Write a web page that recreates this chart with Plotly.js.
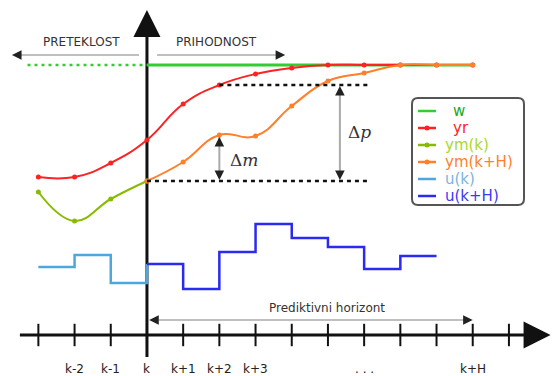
<!DOCTYPE html>
<html>
<head>
<meta charset="utf-8">
<script src="https://cdn.plot.ly/plotly-3.0.1.min.js"></script>
<style>html,body{margin:0;padding:0;background:#fff;}#chart{width:552px;height:376px;}</style>
</head>
<body>
<div id="chart"></div>
<script>
// ---- data (x: sample index relative to k; y: signal level) ----
const tickPos = [-3,-2,-1,0,1,2,3,4,5,6,7,8,9,10];
const tickLabelPos = [-2,-1,0,1,2,3,6,9];
const tickLabels = ['k-2','k-1','k','k+1','k+2','k+3','. . .','k+H'];

const wPastX = [-3.3, 0];
const wPastY = [311, 311];
const wX = [0, 9];
const wY = [311, 311];

const yrX = [-3,-2,-1,0,1,2,3,4,5,6,7,8,9];
const yrY = [199,199,213,236,272,291,302,308,311,311,311,311,311];

const ymkX = [-3,-2,-1,0];
const ymkY = [184,155,177,195];

const ymkhX = [0,1,2,3,4,5,6,7,8,9];
const ymkhY = [195,214,241,240,270,295,303,311,311,311];

const ukX = [-3,-2,-1,0];
const ukY = [109,121,93,112];

const ukhX = [0,1,2,3,4,5,6,7,8];
const ukhY = [112,87,124,152,138,129,107,120,120];

const refLevelLow = 195;   // ym at k
const refLevelHigh = 291;  // yr at k+2

const seriesNames = ['w','yr','ym(k)','ym(k+H)','u(k)','u(k+H)'];

// ---- colours ----
const cW = '#33cc33', cYr = '#ff2222', cYmk = '#88bb00', cYmkh = '#ff7f2a', cUk = '#4ea6dc', cUkh = '#2a2af0';
const lineColors = [cW, cYr, cYmk, cYmkh, cUk, cUkh];
const textColors = ['#22aa22', '#ff2222', '#a8d82a', '#ff7f2a', '#7ab4e4', '#3a3af0'];
const hasMarker = [false, true, true, true, false, false];
const textIndent = [8, 8, 0, 0, 0, 0];

const font = 'DejaVu Sans, Verdana, sans-serif';

const traces = [
  {x: wPastX, y: wPastY, mode:'lines', line:{color:cW, width:2.5, dash:'3px,4px'}},
  {x: wX, y: wY, mode:'lines', line:{color:cW, width:3}},
  {x: yrX, y: yrY, mode:'lines+markers', line:{color:cYr, width:2, shape:'spline', smoothing:1.3}, marker:{size:5, color:cYr}},
  {x: ymkX, y: ymkY, mode:'lines+markers', line:{color:cYmk, width:2, shape:'spline', smoothing:1.2}, marker:{size:5, color:cYmk}},
  {x: ymkhX, y: ymkhY, mode:'lines+markers', line:{color:cYmkh, width:2, shape:'spline', smoothing:1.3}, marker:{size:5, color:cYmkh}},
  {x: ukX, y: ukY, mode:'lines', line:{color:cUk, width:2.5, shape:'hv'}},
  {x: ukhX, y: ukhY, mode:'lines', line:{color:cUkh, width:2.5, shape:'hv'}},
  {x: tickPos, y: tickPos.map(()=>41), mode:'markers', marker:{symbol:'line-ns', size:16, line:{color:'#111', width:2}}}
];
traces.forEach(t => { t.showlegend = false; t.hoverinfo = 'skip'; });

function roundRect(x0, y0, x1, y1, rx, ry){
  return `M ${x0+rx} ${y0} L ${x1-rx} ${y0} Q ${x1} ${y0} ${x1} ${y0-ry} L ${x1} ${y1+ry} Q ${x1} ${y1} ${x1-rx} ${y1} L ${x0+rx} ${y1} Q ${x0} ${y1} ${x0} ${y1+ry} L ${x0} ${y0-ry} Q ${x0} ${y0} ${x0+rx} ${y0} Z`;
}
const W = 552, H = 376;
const px = v => v / W, py = v => 1 - v / H;

const shapes = [
  // main axes (below the data)
  {type:'line', xref:'x', yref:'y', x0:-3.51, x1:10.9, y0:41, y1:41, layer:'below', line:{color:'#111', width:3}},
  {type:'line', xref:'x', yref:'y', x0:0, x1:0, y0:19, y1:355, layer:'below', line:{color:'#111', width:3}},
  {type:'line', xref:'x', yref:'y', x0:0, x1:6.16, y0:refLevelLow, y1:refLevelLow, line:{color:'#111', width:2.5, dash:'4px,4px'}},
  {type:'line', xref:'x', yref:'y', x0:2, x1:6.16, y0:refLevelHigh, y1:refLevelHigh, line:{color:'#111', width:2.5, dash:'4px,4px'}},
  // grey shafts
  {type:'line', xref:'x', yref:'y', x0:-0.22, x1:-3.6, y0:321, y1:321, line:{color:'#aaa', width:1.5}},
  {type:'line', xref:'x', yref:'y', x0:0.28, x1:3.7, y0:321, y1:321, line:{color:'#aaa', width:1.5}},
  {type:'line', xref:'x', yref:'y', x0:0.15, x1:8.9, y0:56, y1:56, line:{color:'#aaa', width:1.5}},
  {type:'line', xref:'x', yref:'y', x0:2, x1:2, y0:refLevelLow+4, y1:239, line:{color:'#aaa', width:2}},
  {type:'line', xref:'x', yref:'y', x0:5.33, x1:5.33, y0:refLevelLow+4, y1:refLevelHigh-4, line:{color:'#aaa', width:2}},
  // legend box
  {type:'path', xref:'paper', yref:'paper',
   path: roundRect(px(412), py(98), px(524), py(205), 6/W, 6/H),
   line:{color:'#555', width:2}, fillcolor:'#fff'}
];

function head(x, y, axPix, ayPix){
  return {x:x, y:y, xref:'x', yref:'y', ax:axPix, ay:ayPix, text:'', showarrow:true,
          arrowhead:2, arrowsize:1.6, arrowwidth:1.2, arrowcolor:'#222'};
}

const annotations = [
  // main axis arrow heads
  {x:11.15, y:41, ax:-16, ay:0, xref:'x', yref:'y', text:'', showarrow:true, arrowhead:2, arrowsize:1.8, arrowwidth:3, arrowcolor:'#111'},
  {x:0, y:366, ax:0, ay:16, xref:'x', yref:'y', text:'', showarrow:true, arrowhead:2, arrowsize:1.8, arrowwidth:3, arrowcolor:'#111'},
  // arrow heads
  head(-3.73, 321, 10, 0),
  head(3.82, 321, -10, 0),
  head(0.06, 56, 10, 0),
  head(9.0, 56, -10, 0),
  head(2, 239, 0, 10),
  head(2, refLevelLow+1, 0, -10),
  head(5.33, refLevelHigh-1, 0, 10),
  head(5.33, refLevelLow+1, 0, -10),
  // texts
  {x:-1.82, y:334, xref:'x', yref:'y', text:'PRETEKLOST', showarrow:false, font:{family:font, size:12, color:'#333'}},
  {x:1.91, y:334, xref:'x', yref:'y', text:'PRIHODNOST', showarrow:false, font:{family:font, size:12, color:'#333'}},
  {x:4.97, y:68, xref:'x', yref:'y', text:'Prediktivni horizont', showarrow:false, font:{family:font, size:12, color:'#333'}},
  {x:2.68, y:216, xref:'x', yref:'y', text:'Δ<i>m</i>', showarrow:false, font:{family:'DejaVu Serif, serif', size:17, color:'#333'}},
  {x:5.88, y:244, xref:'x', yref:'y', text:'Δ<i>p</i>', showarrow:false, font:{family:'DejaVu Serif, serif', size:17, color:'#333'}}
];
tickLabelPos.forEach((p,i)=>{
  annotations.push({x:p, y:7, xref:'x', yref:'y', text:tickLabels[i], showarrow:false, font:{family:font, size:12, color:'#222'}});
});

// ---- hand-built legend (rows 17 px apart) ----
seriesNames.forEach((name, i) => {
  const rowY = 111 + i * 17;
  shapes.push({type:'line', xref:'paper', yref:'paper', x0:px(418), x1:px(436), y0:py(rowY), y1:py(rowY), line:{color:lineColors[i], width:2.5}});
  if (hasMarker[i]) {
    shapes.push({type:'circle', xref:'paper', yref:'paper', x0:px(424.5), x1:px(429.5), y0:py(rowY+2.5), y1:py(rowY-2.5), fillcolor:lineColors[i], line:{width:0}});
  }
  annotations.push({x:px(443 + textIndent[i]), y:py(rowY), xref:'paper', yref:'paper', xanchor:'left', yanchor:'middle',
    text:name, showarrow:false, font:{family:font, size:15, color:textColors[i]}});
});

const layout = {
  width:W, height:H,
  margin:{l:0, r:0, t:0, b:0},
  paper_bgcolor:'#fff', plot_bgcolor:'#fff',
  xaxis:{range:[-4.06, 11.19], visible:false, fixedrange:true},
  yaxis:{range:[0, 376], visible:false, fixedrange:true},
  showlegend:false,
  shapes:shapes,
  annotations:annotations
};

Plotly.newPlot('chart', traces, layout, {displayModeBar:false, staticPlot:true});
</script>
</body>
</html>
